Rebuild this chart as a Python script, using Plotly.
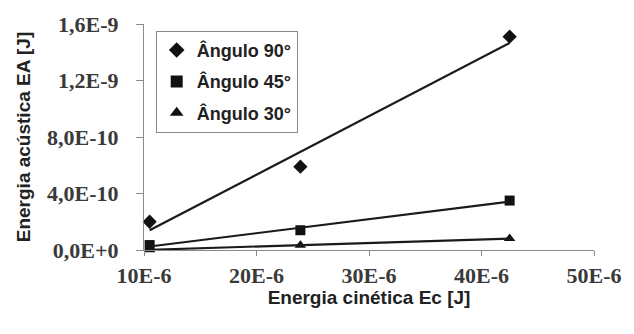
import numpy as np
import plotly.graph_objects as go

# Kinetic energy of each test [J]
ec = [10.5e-6, 23.9e-6, 42.5e-6]

# Acoustic energy measured at each impact angle [J]
ea_90 = [2.0e-10, 5.9e-10, 15.1e-10]
ea_45 = [0.35e-10, 1.4e-10, 3.5e-10]
ea_30 = [0.02e-10, 0.34e-10, 0.81e-10]

series = [
    ("Ângulo 90°", ea_90, "diamond", 11),
    ("Ângulo 45°", ea_45, "square", 10),
    ("Ângulo 30°", ea_30, "triangle-up", 10),
]

x_ticks = [10e-6, 20e-6, 30e-6, 40e-6, 50e-6]
x_labels = ["10E-6", "20E-6", "30E-6", "40E-6", "50E-6"]
y_ticks = [0, 4e-10, 8e-10, 1.2e-9, 1.6e-9]
y_labels = ["0,0E+0", "4,0E-10", "8,0E-10", "1,2E-9", "1,6E-9"]

fig = go.Figure()

for i, (name, ys, symbol, size) in enumerate(series):
    fig.add_trace(go.Scatter(
        x=ec, y=ys, mode="markers", name=f"<b>{name}</b>",
        legendgroup=f"g{i}",
        marker=dict(symbol=symbol, size=size, color="#111111"),
        cliponaxis=False,
    ))
    # linear trendline over the measured range
    slope, intercept = np.polyfit(ec, ys, 1)
    xs = np.array([min(ec), max(ec)])
    fig.add_trace(go.Scatter(
        x=xs, y=slope * xs + intercept, mode="lines", showlegend=False,
        legendgroup=f"g{i}",
        line=dict(color="#1a1a1a", width=2.2), hoverinfo="skip",
    ))

tick_font = dict(family="Liberation Serif", size=22, color="#3a3a3a")
title_font = dict(family="Liberation Sans", size=19, color="#222222")

fig.update_layout(
    width=634, height=334,
    margin=dict(l=144, r=34, t=18, b=84),
    paper_bgcolor="white", plot_bgcolor="white",
    font=dict(family="Liberation Sans", color="#222222"),
    legend=dict(
        x=0.026, y=0.97, xanchor="left", yanchor="top",
        bordercolor="#888888", borderwidth=1, bgcolor="white",
        font=dict(family="Liberation Sans", size=18, color="#222222"),
        itemwidth=30, tracegroupgap=5, itemsizing="constant",
    ),
    xaxis=dict(
        range=[10e-6, 50e-6], tickvals=x_ticks,
        ticktext=[f"<b>{t}</b>" for t in x_labels],
        tickfont=tick_font,
        showgrid=False, zeroline=False,
        showline=True, linecolor="#8a8a8a", linewidth=1.2,
        ticks="outside", ticklen=5, tickcolor="#8a8a8a",
        title=dict(text="<b>Energia cinética Ec [J]</b>", font=title_font, standoff=3),
    ),
    yaxis=dict(
        range=[0, 1.6e-9], tickvals=y_ticks,
        ticktext=[f"<b>{t}</b>" for t in y_labels],
        tickfont=tick_font,
        showgrid=False, zeroline=False,
        showline=True, linecolor="#8a8a8a", linewidth=1.2,
        ticks="outside", ticklen=7, tickcolor="#8a8a8a",
        ticklabelstandoff=13,
        title=dict(text="<b>Energia acústica EA [J]</b>", font=title_font, standoff=11),
    ),
)

fig.write_html("out.html")
